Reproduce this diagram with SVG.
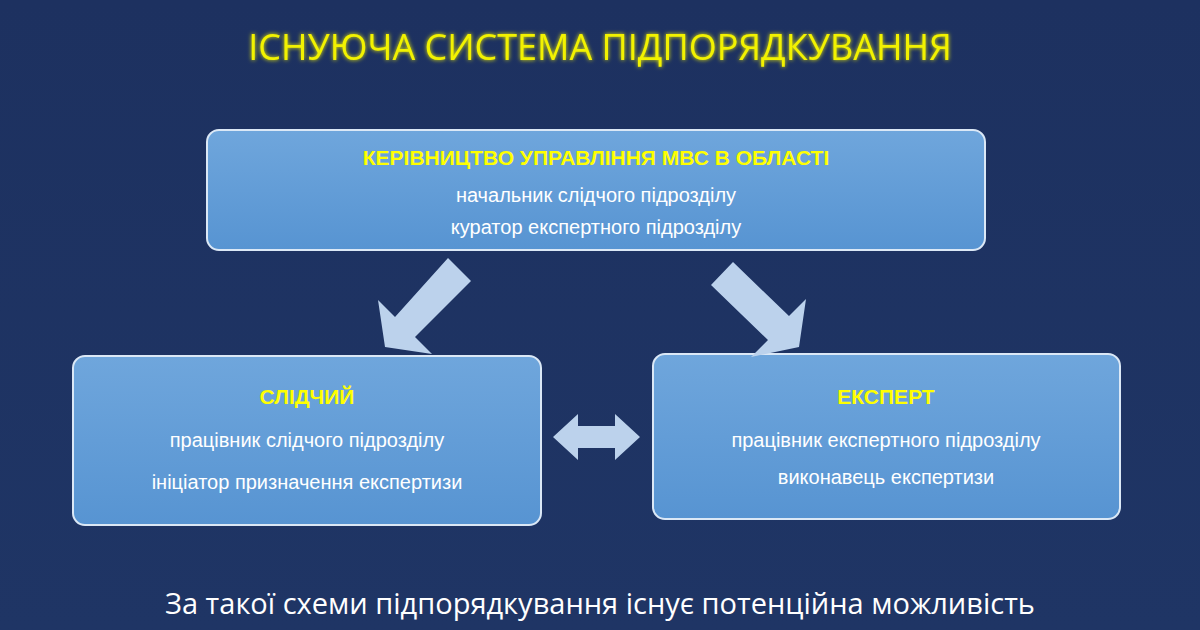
<svg xmlns="http://www.w3.org/2000/svg" width="1200" height="630" viewBox="0 0 1200 630">
<defs>
<linearGradient id="bg" x1="0" y1="0" x2="0" y2="1"><stop offset="0" stop-color="#1d3160"/><stop offset="1" stop-color="#1f3565"/></linearGradient>
<linearGradient id="bx" x1="0" y1="0" x2="0" y2="1"><stop offset="0" stop-color="#6fa6dc"/><stop offset="1" stop-color="#5794d2"/></linearGradient>
<filter id="glow"><feGaussianBlur stdDeviation="2"/><feMerge><feMergeNode/><feMergeNode in="SourceGraphic"/></feMerge></filter>
</defs>
<style>
.box{fill:url(#bx);stroke:#dbe8f6;stroke-width:2}
.h{font-family:"Liberation Sans",Arial,sans-serif;font-weight:bold;fill:#ffff00;text-anchor:middle;font-size:21px}
.t{font-family:"Liberation Sans",Arial,sans-serif;fill:#fff;text-anchor:middle;font-size:20px}
.ar{fill:#bcd2ec}
</style>
<rect width="1200" height="630" fill="url(#bg)"/>
<text x="600" y="60" font-family="'Open Sans','Liberation Sans',sans-serif" font-size="36" fill="#f2f200" text-anchor="middle" filter="url(#glow)">ІСНУЮЧА СИСТЕМА ПІДПОРЯДКУВАННЯ</text>
<g id="top"><rect class="box" x="207" y="130" width="778" height="120" rx="12"/>
<text class="h" x="596" y="165">КЕРІВНИЦТВО УПРАВЛІННЯ МВС  В ОБЛАСТІ</text>
<text class="t" x="596" y="202">начальник слідчого підрозділу</text>
<text class="t" x="596" y="234">куратор експертного  підрозділу</text></g>
<g id="left"><rect class="box" x="73" y="356" width="468" height="169" rx="12"/>
<text class="h" x="307" y="404">СЛІДЧИЙ</text>
<text class="t" x="307" y="447">працівник слідчого підрозділу</text>
<text class="t" x="307" y="489">ініціатор призначення експертизи</text></g>
<g id="right"><rect class="box" x="653" y="354" width="467" height="165" rx="12"/>
<text class="h" x="886" y="404">ЕКСПЕРТ</text>
<text class="t" x="886" y="447">працівник експертного підрозділу</text>
<text class="t" x="886" y="484">виконавець експертизи</text></g>
<g id="connectors">
<polygon class="ar" points="448,258 471,281 415,337 432,354 385,347 378,300 395,317"/>
<polygon class="ar" points="733,262 711,285 768,340 751,357 799,347 806,299 789,316"/>
<polygon class="ar" points="553,437 578,414 578,426 615,426 615,414 640,437 615,460 615,448 578,448 578,460"/>
</g>
<text x="600" y="614" font-family="'Open Sans','Liberation Sans',sans-serif" font-size="29" fill="#fff" text-anchor="middle">За такої схеми підпорядкування існує потенційна можливість</text>
</svg>
